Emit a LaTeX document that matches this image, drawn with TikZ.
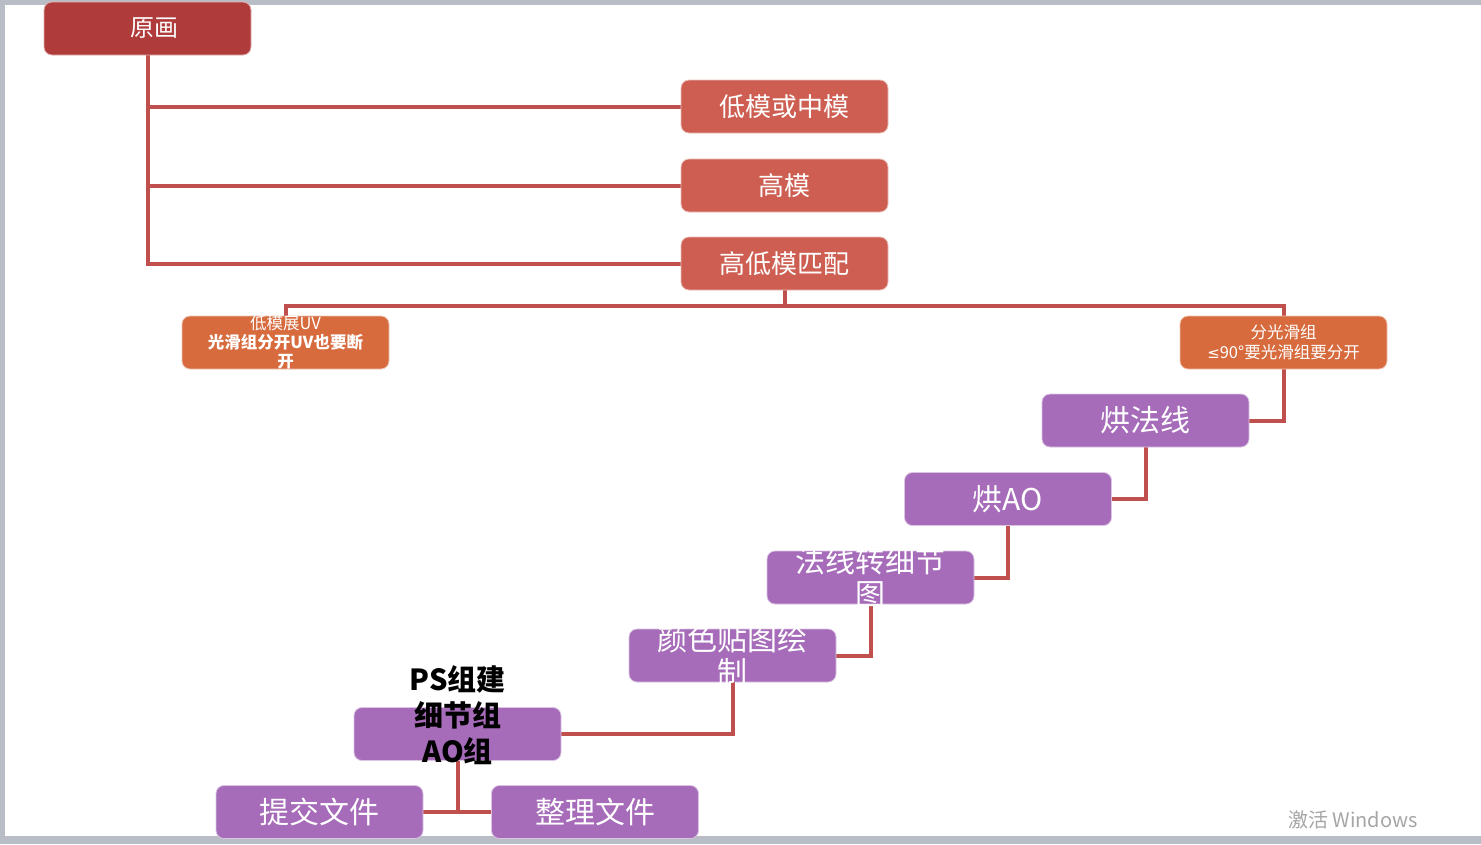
\documentclass[tikz,border=0pt]{standalone}
\usepackage{fontspec}
\setmainfont{Noto Sans CJK SC}
\newfontfamily\dejavu{DejaVu Sans}
\usetikzlibrary{backgrounds}
\definecolor{bggray}{HTML}{B9BDC5}
\definecolor{topred}{HTML}{B03B3B}
\definecolor{boxred}{HTML}{CD5E51}
\definecolor{boxorange}{HTML}{D76B3E}
\definecolor{boxpurple}{HTML}{A66BB9}
\definecolor{linkred}{HTML}{C0504D}
\tikzset{
  box/.style={rounded corners=8pt, minimum width=207pt, minimum height=53pt,
    inner sep=0pt, text=white, draw=white!60!#1, line width=0.8pt, fill=#1, align=center},
  link/.style={draw=linkred, line width=4pt},
  boxtext/.style={text=white, align=center, inner sep=0pt},
}
\begin{document}
\begin{tikzpicture}[x=1pt,y=-1pt]
\useasboundingbox (0,0) rectangle (1481,844);
% boxes
\node[box=topred] (yuan) at (147.5,28.5) {};
\node[boxtext, font=\fontsize{24}{28}\selectfont] (yuant) at ([xshift=7pt]yuan.center) {原画};
\node[box=boxred, font=\fontsize{26}{30}\selectfont] (dimo) at (784.5,106.5) {低模或中模};
\node[box=boxred, font=\fontsize{26}{30}\selectfont] (gaomo) at (784.5,185.5) {高模};
\node[box=boxred, font=\fontsize{26}{30}\selectfont] (pipei) at (784.5,263.5) {高低模匹配};
\node[box=boxorange] (uv) at (285.5,342.5) {};
\node[box=boxorange, font=\fontsize{16.5}{20}\selectfont] (gh) at (1283.5,342.5) {分光滑组\\{\dejavu\fontsize{15}{20}\selectfont ≤}90°要光滑组要分开};
\node[box=boxpurple, font=\fontsize{30}{34}\selectfont] (fx) at (1145.5,420.5) {烘法线};
\node[box=boxpurple, font=\fontsize{30}{34}\selectfont] (ao) at (1008,499) {烘AO};
\node[box=boxpurple] (xj) at (870.5,577.5) {};
\node[box=boxpurple] (ys) at (732.5,655.5) {};
\node[box=boxpurple] (ps) at (457.5,734) {};
\node[box=boxpurple, font=\fontsize{30}{34}\selectfont] (tj) at (319.5,812) {提交文件};
\node[box=boxpurple, font=\fontsize{30}{34}\selectfont] (zl) at (595,812) {整理文件};
% overflowing texts
\node[boxtext, font=\fontsize{16.5}{19}\selectfont] (uvt) at (uv.center) {低模展UV\\\textbf{光滑组分开UV也要断}\\\textbf{开}};
\node[boxtext, font=\fontsize{30}{32.5}\selectfont] (xjt) at (xj.center) {法线转细节\\图};
\node[boxtext, font=\fontsize{30}{33}\selectfont] (yst) at (ys.center) {颜色贴图绘\\制};
\node[boxtext, text=black, font=\bfseries\fontsize{29}{36}\selectfont] (pst) at ([yshift=19pt]ps.center) {PS组建\\细节组\\AO组};
\node[text=black!35, inner sep=0pt, font=\fontsize{20}{24}\selectfont] (win) at (1353,820) {激活 Windows};
\coordinate (bus) at (0,306);
\begin{pgfonlayer}{background}
\fill[bggray] (0,0) rectangle (1481,844);
\fill[white] (5,5) rectangle (1481,836);
\draw[link] (yuan.south) |- (pipei.west);
\draw[link] (yuan.south |- dimo.west) -- (dimo.west);
\draw[link] (yuan.south |- gaomo.west) -- (gaomo.west);
\draw[link] (pipei.south) -- (pipei.south |- bus);
\draw[link] (uv.north) -- (uv.north |- bus) -- (gh.north |- bus) -- (gh.north);
\draw[link] (gh.south) |- (fx.east);
\draw[link] (fx.south) |- (ao.east);
\draw[link] (ao.south) |- (xj.east);
\draw[link] (xj.south) |- (ys.east);
\draw[link] (ys.south) |- (ps.east);
\draw[link] (ps.south) |- (tj.east);
\draw[link] (ps.south) |- (zl.west);
\end{pgfonlayer}
\end{tikzpicture}
\end{document}
